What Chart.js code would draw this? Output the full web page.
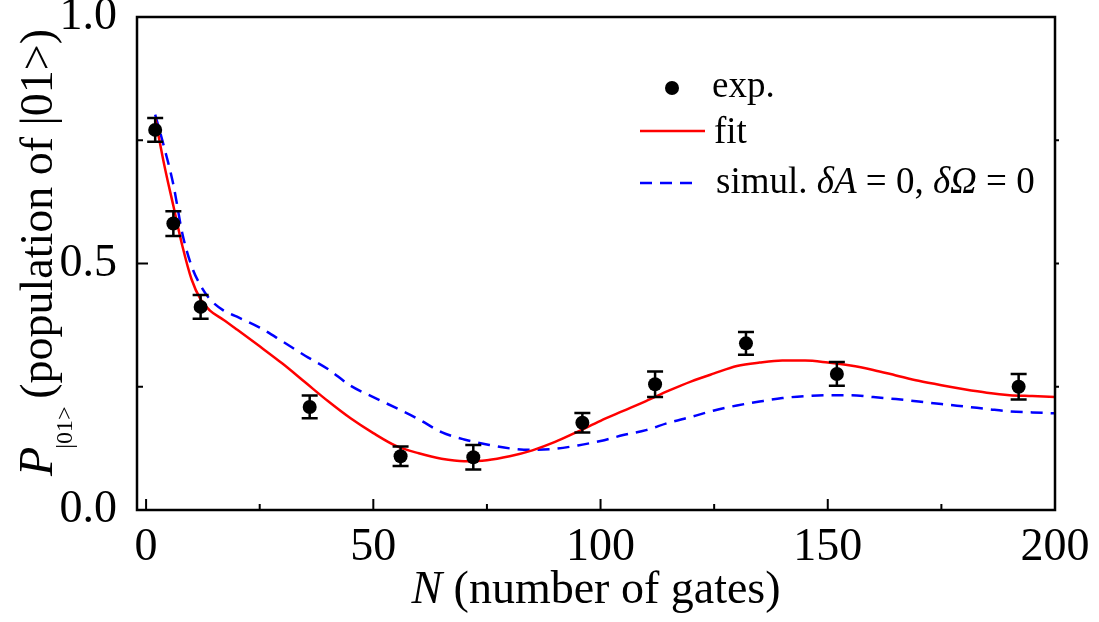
<!DOCTYPE html>
<html><head><meta charset="utf-8">
<script src="https://cdn.jsdelivr.net/npm/chart.js@4.4.1/dist/chart.umd.min.js"></script>
<style>html,body{margin:0;padding:0;background:#fff}#wrap{width:1099px;height:622px}</style>
</head><body><div id="wrap"><canvas id="c" width="1099" height="622"></canvas></div>
<script>
// ---- data ----
const expN   = [2, 6, 12, 36, 56, 72, 96, 112, 132, 152, 192];
const expP   = [0.771, 0.581, 0.412, 0.209, 0.109, 0.107, 0.177, 0.255, 0.338, 0.276, 0.250];
const expErr = [0.024, 0.025, 0.024, 0.023, 0.020, 0.025, 0.020, 0.026, 0.023, 0.024, 0.026];

const curveN = [2,4,6,8,10,12,14,17,20,25,30,35,40,45,50,55,60,65,70,75,80,85,90,95,100,105,110,115,120,125,130,135,140,145,150,155,160,165,170,175,180,185,190,195,200];
const fitP   = [0.795,0.700,0.617,0.535,0.468,0.427,0.405,0.386,0.366,0.332,0.297,0.259,0.221,0.186,0.156,0.130,0.115,0.104,0.099,0.101,0.109,0.121,0.138,0.159,0.181,0.201,0.221,0.242,0.261,0.277,0.292,0.299,0.303,0.303,0.299,0.293,0.284,0.273,0.262,0.253,0.245,0.238,0.233,0.231,0.229];
const simP   = [0.802,0.735,0.660,0.560,0.495,0.455,0.428,0.405,0.392,0.370,0.342,0.313,0.286,0.252,0.229,0.207,0.184,0.158,0.143,0.133,0.125,0.122,0.124,0.131,0.140,0.152,0.162,0.177,0.189,0.202,0.212,0.220,0.227,0.231,0.233,0.233,0.229,0.225,0.220,0.215,0.210,0.205,0.200,0.198,0.196];

const xTicks = [0, 50, 100, 150, 200];
const xMinorTicks = [25, 75, 125, 175];
const yTicks = [0, 0.5, 1.0];
const yMinorTicks = [0.25, 0.75];

const FONT = '"Liberation Serif", "Times New Roman", serif';

function pts(xs, ys){ return xs.map((x,i)=>({x:x, y:ys[i]})); }

const framePlugin = {
  id: 'frame',
  afterDatasetsDraw(chart){
    const ctx = chart.ctx;
    const xs = chart.scales.x, ys = chart.scales.y;
    // error bars
    ctx.save();
    ctx.strokeStyle = '#000'; ctx.lineWidth = 2.5;
    expN.forEach((n,i)=>{
      const px = xs.getPixelForValue(n);
      const pt = ys.getPixelForValue(expP[i] + expErr[i]);
      const pb = ys.getPixelForValue(expP[i] - expErr[i]);
      ctx.beginPath();
      ctx.moveTo(px, pt); ctx.lineTo(px, pb);
      ctx.moveTo(px-8, pt); ctx.lineTo(px+8, pt);
      ctx.moveTo(px-8, pb); ctx.lineTo(px+8, pb);
      ctx.stroke();
    });
    ctx.restore();
  },
  afterDraw(chart){
    const ctx = chart.ctx, ca = chart.chartArea;
    const xs = chart.scales.x, ys = chart.scales.y;
    ctx.save();
    ctx.strokeStyle = '#000'; ctx.lineWidth = 2.5;
    ctx.strokeRect(ca.left, ca.top, ca.right-ca.left, ca.bottom-ca.top);
    ctx.lineWidth = 2;
    ctx.beginPath();
    xTicks.forEach(v=>{ const p = xs.getPixelForValue(v); ctx.moveTo(p, ca.bottom); ctx.lineTo(p, ca.bottom-11); });
    xMinorTicks.forEach(v=>{ const p = xs.getPixelForValue(v); ctx.moveTo(p, ca.bottom); ctx.lineTo(p, ca.bottom-6); });
    yTicks.forEach(v=>{ const p = ys.getPixelForValue(v); ctx.moveTo(ca.left, p); ctx.lineTo(ca.left+11, p); });
    yMinorTicks.forEach(v=>{ const p = ys.getPixelForValue(v); ctx.moveTo(ca.left, p); ctx.lineTo(ca.left+6, p); });
    [0.25,0.5,0.75].forEach(v=>{ const p = ys.getPixelForValue(v); ctx.moveTo(ca.right, p); ctx.lineTo(ca.right+4, p); });
    ctx.stroke();

    // legend
    ctx.fillStyle = '#000';
    ctx.beginPath(); ctx.arc(672, 88, 7, 0, Math.PI*2); ctx.fill();
    ctx.font = '37px ' + FONT; ctx.textBaseline = 'alphabetic'; ctx.textAlign = 'left';
    ctx.fillText('exp.', 712, 97);
    ctx.strokeStyle = '#ff0000'; ctx.lineWidth = 2.5;
    ctx.beginPath(); ctx.moveTo(640, 131); ctx.lineTo(705, 131); ctx.stroke();
    ctx.fillText('fit', 714, 143);
    ctx.strokeStyle = '#0000ff'; ctx.setLineDash([12, 8]);
    ctx.beginPath(); ctx.moveTo(640, 183); ctx.lineTo(700, 183); ctx.stroke();
    ctx.setLineDash([]);
    let x = 716; const by = 193;
    const parts = [['simul. ', false], ['\u03B4A', true], [' = 0, ', false], ['\u03B4\u03A9', true], [' = 0', false]];
    parts.forEach(([t, it])=>{
      ctx.font = (it ? 'italic ' : '') + '37px ' + FONT;
      ctx.fillText(t, x, by);
      x += ctx.measureText(t).width;
    });

    // x title
    ctx.font = 'italic 46px ' + FONT;
    const nW = ctx.measureText('N').width;
    ctx.font = '46px ' + FONT;
    const rest = ' (number of gates)';
    const rW = ctx.measureText(rest).width;
    const cx = (ca.left + ca.right)/2;
    let tx = cx - (nW + rW)/2;
    ctx.font = 'italic 46px ' + FONT; ctx.fillText('N', tx, 603);
    ctx.font = '46px ' + FONT; ctx.fillText(rest, tx + nW, 603);

    // y title (rotated)
    ctx.save();
    ctx.translate(52, 476);
    ctx.rotate(-Math.PI/2);
    ctx.font = 'italic 48px ' + FONT; ctx.fillText('P', 0, 0);
    const pW = ctx.measureText('P').width;
    ctx.font = '24px ' + FONT; ctx.fillText('|01>', pW - 2, 20);
    const sW = ctx.measureText('|01>').width;
    ctx.font = '46px ' + FONT; ctx.fillText(' (population of |01>)', pW + sW - 6, 0);
    ctx.restore();
    ctx.restore();
  }
};

function build(){
  Chart.defaults.font.family = FONT;
  new Chart(document.getElementById('c'), {
    type: 'scatter',
    data: {
      datasets: [
        { label: 'exp.', data: pts(expN, expP), showLine: false, pointRadius: 7, pointHoverRadius: 7,
          backgroundColor: '#000', borderColor: '#000', borderWidth: 0 },
        { label: 'fit', data: pts(curveN, fitP), showLine: true, pointRadius: 0, borderColor: '#ff0000',
          borderWidth: 2.5, cubicInterpolationMode: 'monotone', fill: false },
        { label: 'simul.', data: pts(curveN, simP), showLine: true, pointRadius: 0, borderColor: '#0000ff',
          borderWidth: 2.5, borderDash: [12, 8], cubicInterpolationMode: 'monotone', fill: false }
      ]
    },
    options: {
      responsive: false, animation: false, devicePixelRatio: 1,
      layout: { padding: { top: 17, right: 44, left: 0, bottom: 0 } },
      plugins: { legend: { display: false }, tooltip: { enabled: false } },
      scales: {
        x: {
          type: 'linear', min: -2, max: 200,
          afterBuildTicks: s => { s.ticks = xTicks.map(v => ({ value: v })); },
          afterFit: s => { s.height = 112; s.paddingLeft = 0; s.paddingRight = 0; },
          grid: { display: false }, border: { display: false },
          ticks: { color: '#000', font: { size: 46, family: FONT }, padding: 2, maxRotation: 0, autoSkip: false,
                   callback: v => String(v) }
        },
        y: {
          type: 'linear', min: 0, max: 1,
          afterBuildTicks: s => { s.ticks = yTicks.map(v => ({ value: v })); },
          afterFit: s => { s.width = 137; s.paddingTop = 0; s.paddingBottom = 0; },
          grid: { display: false }, border: { display: false },
          ticks: { color: '#000', font: { size: 46, family: FONT }, padding: 12, autoSkip: false,
                   callback: v => Number(v).toFixed(1) }
        }
      }
    },
    plugins: [framePlugin]
  });
}
Promise.all([
  document.fonts.load('46px "Liberation Serif"'),
  document.fonts.load('italic 46px "Liberation Serif"')
]).then(build, build);
</script>
</body></html>
